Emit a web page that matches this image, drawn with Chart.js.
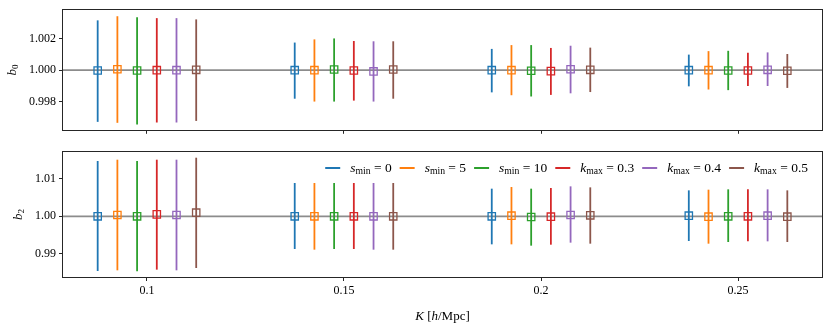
<!DOCTYPE html>
<html>
<head>
<meta charset="utf-8">
<script src="https://cdn.jsdelivr.net/npm/chart.js@4.4.0/dist/chart.umd.min.js"></script>
<style>
  html, body { margin: 0; padding: 0; background: #fff; }
  #wrap { position: relative; width: 830px; height: 324px; }
  #top-wrap { position: absolute; left: 0; top: 0; width: 830px; height: 140px; }
  #bot-wrap { position: absolute; left: 0; top: 140px; width: 830px; height: 184px; }
</style>
</head>
<body>
<div id="wrap">
  <div id="top-wrap"><canvas id="b0-chart"></canvas></div>
  <div id="bot-wrap"><canvas id="b2-chart"></canvas></div>
</div>
<script>
// x positions: K bins and the small dodge of each series around them
const kValues = [0.1, 0.15, 0.2, 0.25];
const kOffsets = [-0.0125, -0.0075, -0.0025, 0.0025, 0.0075, 0.0125];
const xTicks = [0.1, 0.15, 0.2, 0.25];
const xTickLabels = ['0.1', '0.15', '0.2', '0.25'];

const seriesLabels = ['s_min = 0', 's_min = 5', 's_min = 10', 'k_max = 0.3', 'k_max = 0.4', 'k_max = 0.5'];
const seriesColors = ['#1f77b4', '#ff7f0e', '#2ca02c', '#d62728', '#9467bd', '#8c564b'];

// b0 panel (one row per series, one column per K)
const b0Ticks = [0.998, 1.000, 1.002];
const b0TickLabels = ['0.998', '1.000', '1.002'];
const b0Mid = [
  [0.99998, 1.00000, 1.00000, 1.00000],
  [1.00006, 1.00000, 1.00000, 1.00000],
  [0.99998, 1.00004, 0.99996, 0.99998],
  [1.00000, 0.99998, 0.99994, 0.99998],
  [1.00000, 0.99992, 1.00006, 1.00002],
  [1.00002, 1.00004, 1.00002, 0.99996]
];
const b0Hi = [
  [1.00314, 1.00174, 1.00134, 1.00098],
  [1.00340, 1.00194, 1.00158, 1.00120],
  [1.00334, 1.00200, 1.00158, 1.00122],
  [1.00328, 1.00184, 1.00140, 1.00110],
  [1.00328, 1.00182, 1.00154, 1.00112],
  [1.00320, 1.00182, 1.00142, 1.00102]
];
const b0Lo = [
  [0.99674, 0.99820, 0.99860, 0.99898],
  [0.99668, 0.99802, 0.99842, 0.99878],
  [0.99658, 0.99802, 0.99834, 0.99874],
  [0.99670, 0.99808, 0.99844, 0.99900],
  [0.99670, 0.99802, 0.99854, 0.99900],
  [0.99680, 0.99820, 0.99862, 0.99888]
];

// b2 panel
const b2Ticks = [0.99, 1.00, 1.01];
const b2TickLabels = ['0.99', '1.00', '1.01'];
const b2Mid = [
  [1.00000, 1.00000, 1.00000, 1.00018],
  [1.00036, 1.00000, 1.00018, 0.99991],
  [1.00000, 1.00000, 0.99982, 1.00000],
  [1.00053, 1.00000, 0.99991, 1.00000],
  [1.00036, 1.00000, 1.00036, 1.00018],
  [1.00098, 1.00000, 1.00027, 0.99991]
];
const b2Hi = [
  [1.01476, 1.00889, 1.00738, 1.00693],
  [1.01511, 1.00889, 1.00782, 1.00711],
  [1.01476, 1.00889, 1.00738, 1.00720],
  [1.01511, 1.00889, 1.00756, 1.00720],
  [1.01511, 1.00889, 1.00800, 1.00720],
  [1.01564, 1.00889, 1.00773, 1.00693]
];
const b2Lo = [
  [0.98542, 0.99129, 0.99253, 0.99342],
  [0.98560, 0.99111, 0.99253, 0.99271],
  [0.98533, 0.99129, 0.99218, 0.99316],
  [0.98578, 0.99129, 0.99244, 0.99333],
  [0.98560, 0.99111, 0.99298, 0.99333],
  [0.98622, 0.99111, 0.99271, 0.99316]
];

const SERIF = '"Liberation Serif", "DejaVu Serif", serif';
const FRAME = '#262626';

// draw a bit of math-like text: pieces of {t, f, dy}
function drawParts(ctx, parts, x, y, doDraw) {
  let cx = x;
  parts.forEach(p => {
    ctx.font = p.f;
    if (doDraw) ctx.fillText(p.t, cx, y + (p.dy || 0));
    cx += ctx.measureText(p.t).width;
  });
  return cx - x;
}

function labelParts(label, size) {
  const sym = label.split('_')[0];
  const rest = label.split('_')[1];
  const sub = rest.split(' = ')[0];
  const val = rest.split(' = ')[1];
  return [
    { t: sym, f: 'italic ' + size + 'px ' + SERIF },
    { t: sub, f: (size * 0.72).toFixed(1) + 'px ' + SERIF, dy: size * 0.25 },
    { t: ' = ' + val, f: size + 'px ' + SERIF }
  ];
}

const decorPlugin = {
  id: 'decor',
  beforeDatasetsDraw(chart, args, opts) {
    const ctx = chart.ctx, a = chart.chartArea;
    const xs = chart.scales.x, ys = chart.scales.y;
    ctx.save();
    // reference line at 1
    const y1 = ys.getPixelForValue(1);
    ctx.strokeStyle = 'rgba(128,128,128,0.9)';
    ctx.lineWidth = 1.6;
    ctx.beginPath();
    ctx.moveTo(a.left, y1);
    ctx.lineTo(a.right, y1);
    ctx.stroke();
    // error bars
    chart.data.datasets.forEach(ds => {
      ctx.strokeStyle = ds.borderColor;
      ctx.lineWidth = 1.8;
      ds.data.forEach((p, i) => {
        const px = xs.getPixelForValue(p.x);
        ctx.beginPath();
        ctx.moveTo(px, ys.getPixelForValue(ds.errLo[i]));
        ctx.lineTo(px, ys.getPixelForValue(ds.errHi[i]));
        ctx.stroke();
      });
    });
    ctx.restore();
  },
  afterDraw(chart, args, opts) {
    const ctx = chart.ctx, a = chart.chartArea;
    ctx.save();
    // full frame
    ctx.strokeStyle = FRAME;
    ctx.lineWidth = 1;
    ctx.strokeRect(Math.round(a.left) - 0.5, Math.round(a.top) - 0.5,
      Math.round(a.right - a.left) + 1, Math.round(a.bottom - a.top) + 1);

    // y title: b with subscript
    ctx.fillStyle = '#000';
    ctx.translate(opts.yTitleX, (a.top + a.bottom) / 2);
    ctx.rotate(-Math.PI / 2);
    ctx.textBaseline = 'middle';
    const yParts = [
      { t: 'b', f: 'italic 13px ' + SERIF },
      { t: opts.ySub, f: '9px ' + SERIF, dy: 3 }
    ];
    const w = drawParts(ctx, yParts, 0, 0, false);
    drawParts(ctx, yParts, -w / 2, 0, true);
    ctx.restore();

    if (opts.legend) {
      ctx.save();
      ctx.textBaseline = 'middle';
      ctx.fillStyle = '#000';
      const size = 13.5, handle = 15, gapH = 10, gapItem = 8;
      const widths = seriesLabels.map(l => drawParts(ctx, labelParts(l, size), 0, 0, false));
      let total = 0;
      widths.forEach(wd => { total += handle + gapH + wd; });
      total += gapItem * (widths.length - 1);
      let x = opts.legendRight - total;
      const y = opts.legendY;
      seriesLabels.forEach((l, i) => {
        ctx.strokeStyle = seriesColors[i];
        ctx.lineWidth = 2;
        ctx.beginPath();
        ctx.moveTo(x, y);
        ctx.lineTo(x + handle, y);
        ctx.stroke();
        x += handle + gapH;
        drawParts(ctx, labelParts(l, size), x, y, true);
        x += widths[i] + gapItem;
      });
      ctx.restore();
    }

    if (opts.xTitle) {
      ctx.save();
      ctx.textBaseline = 'middle';
      ctx.fillStyle = '#000';
      const parts = [
        { t: 'K', f: 'italic 13px ' + SERIF },
        { t: ' [', f: '13px ' + SERIF },
        { t: 'h', f: 'italic 13px ' + SERIF },
        { t: '/Mpc]', f: '13px ' + SERIF }
      ];
      const tw = drawParts(ctx, parts, 0, 0, false);
      drawParts(ctx, parts, (a.left + a.right) / 2 - tw / 2, opts.xTitleY, true);
      ctx.restore();
    }
  }
};

function makeDatasets(mid, lo, hi) {
  return seriesLabels.map((label, s) => ({
    label: label,
    data: kValues.map((k, i) => ({ x: k + kOffsets[s], y: mid[s][i] })),
    errLo: lo[s],
    errHi: hi[s],
    borderColor: seriesColors[s],
    backgroundColor: 'rgba(0,0,0,0)',
    pointStyle: 'rect',
    pointRadius: 5.2,
    pointBorderWidth: 1.3,
    showLine: false
  }));
}

function panel(canvasId, mid, lo, hi, yMin, yMax, yTicks, yTickLabels, showXLabels, pad, xHeight, decor) {
  return new Chart(document.getElementById(canvasId), {
    type: 'scatter',
    data: { datasets: makeDatasets(mid, lo, hi) },
    options: {
      responsive: true,
      maintainAspectRatio: false,
      animation: false,
      layout: { padding: pad },
      plugins: { legend: { display: false }, tooltip: { enabled: false }, decor: decor },
      scales: {
        x: {
          type: 'linear',
          min: 0.0787,
          max: 0.2713,
          afterBuildTicks: axis => { axis.ticks = xTicks.map(v => ({ value: v })); },
          afterFit: axis => { axis.height = xHeight; },
          border: { display: false },
          grid: { display: true, drawOnChartArea: false, drawTicks: true, tickLength: 4, tickColor: FRAME },
          ticks: {
            display: showXLabels,
            padding: 3,
            color: '#000',
            font: { family: SERIF, size: 12 },
            callback: (v) => xTickLabels[xTicks.indexOf(v)]
          }
        },
        y: {
          min: yMin,
          max: yMax,
          afterBuildTicks: axis => { axis.ticks = yTicks.map(v => ({ value: v })); },
          afterFit: axis => { axis.width = 63; },
          border: { display: false },
          grid: { display: true, drawOnChartArea: false, drawTicks: true, tickLength: 4, tickColor: FRAME },
          ticks: {
            padding: 3,
            color: '#000',
            font: { family: SERIF, size: 12 },
            callback: (v) => yTickLabels[yTicks.indexOf(v)]
          }
        }
      }
    },
    plugins: [decorPlugin]
  });
}

panel('b0-chart', b0Mid, b0Lo, b0Hi, 0.99624, 1.00378, b0Ticks, b0TickLabels, false,
  { top: 8, right: 8, bottom: 0, left: 0 }, 7,
  { yTitleX: 13, ySub: '0' });

panel('b2-chart', b2Mid, b2Lo, b2Hi, 0.98382, 1.01716, b2Ticks, b2TickLabels, true,
  { top: 12, right: 8, bottom: 0, left: 0 }, 47,
  { yTitleX: 19, ySub: '2', legend: true, legendRight: 808, legendY: 28, xTitle: true, xTitleY: 177 });
</script>
</body>
</html>
